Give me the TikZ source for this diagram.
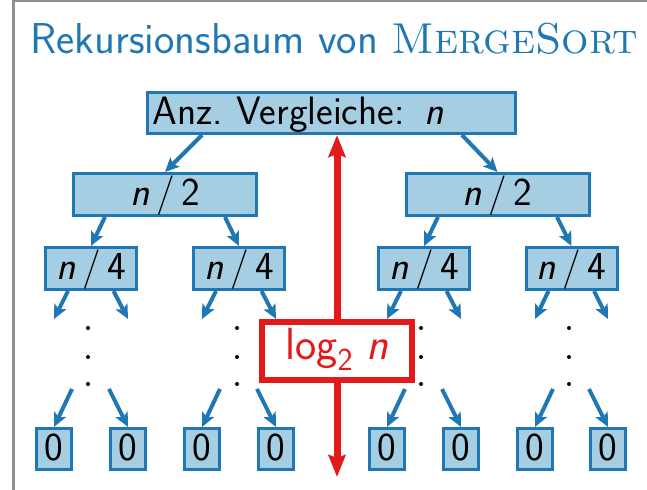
\documentclass[tikz,border=0pt]{standalone}
\usetikzlibrary{arrows.meta,calc}

\definecolor{treeblue}{RGB}{31,120,180}
\definecolor{treefill}{RGB}{166,206,227}
\definecolor{treered}{RGB}{227,26,28}
\definecolor{framegray}{RGB}{145,145,145}

\newcommand\treeboxfont{\sffamily\fontsize{19.8}{24}\selectfont}
\newcommand\treetitlefont{\sffamily\fontsize{21.6}{26}\selectfont}
\newcommand\treelogfont{\sffamily\fontsize{22.5}{27}\selectfont}
\newcommand\treelogsub[1]{\raisebox{-5.5pt}{\fontsize{16}{16}\selectfont #1}}

\tikzset{
  treebox/.style={draw=treeblue, fill=treefill, line width=1.5pt, inner sep=0pt,
    text height=14pt, text depth=2.5pt, font=\treeboxfont, text=black},
  halfbox/.style={treebox, minimum width=91.5pt, minimum height=21pt},
  quarterbox/.style={treebox, minimum width=45.5pt, minimum height=21pt},
  leafbox/.style={treebox, minimum width=17.5pt, minimum height=20.5pt},
  treeedge/.style={draw=treeblue, line width=2pt,
    -{Stealth[length=7pt,width=6.5pt,inset=1.5pt]}},
  vdot/.style={circle, fill=black, inner sep=0pt, minimum size=2pt},
  heightarrow/.style={draw=treered, line width=3.5pt,
    {Stealth[length=11pt,width=8.5pt,inset=1.5pt]}-{Stealth[length=11pt,width=8.5pt,inset=1.5pt]}},
  heightbox/.style={draw=treered, line width=3.2pt, fill=white, inner sep=0pt,
    minimum width=75.25pt, minimum height=28.75pt, text height=14pt, text depth=5pt,
    font=\treelogfont, text=treered},
}

\begin{document}
\begin{tikzpicture}[x=0.5pt,y=-0.5pt]
  \useasboundingbox (0,0) rectangle (647,490);

  % frame lines of the slide block
  \draw[framegray, line width=1.35pt] (13.5,490) -- (13.5,1) -- (647,1);

  % heading
  \node[anchor=base west, inner sep=0pt, text=treeblue, font=\treetitlefont] (title)
    at (30,54) {Rekursionsbaum von \textrm{\textsc{MergeSort}}};

  % tree levels
  \node[treebox, text width=179pt, align=left, inner xsep=2.5pt, minimum height=20.5pt]
    (root) at (331.5,113) {Anz.\ Vergleiche: \textit{n}};

  \node[halfbox] (n2L) at (165,194.5)   {\textit{n}\,/\,2};
  \node[halfbox] (n2R) at (497.5,194.5) {\textit{n}\,/\,2};

  \node[quarterbox] (n4a) at (91,268.5)    {\textit{n}\,/\,4};
  \node[quarterbox] (n4b) at (239,268.5)   {\textit{n}\,/\,4};
  \node[quarterbox] (n4c) at (424,268.5)   {\textit{n}\,/\,4};
  \node[quarterbox] (n4d) at (571.5,268.5) {\textit{n}\,/\,4};

  \foreach \name/\x in {L1/54,L2/128,L3/202,L4/276,L5/387,L6/461,L7/535,L8/608}
    \node[leafbox] (\name) at (\x,449) {0};

  % edges between the upper levels
  \draw[treeedge] ($(root.south)+(-129.5,0)$) -- (n2L.north);
  \draw[treeedge] ($(root.south)+(130.5,0)$) -- (n2R.north);
  \draw[treeedge] ($(n2L.south)+(-60,0)$) -- (n4a.north);
  \draw[treeedge] ($(n2L.south)+(60,0)$) -- (n4b.north);
  \draw[treeedge] ($(n2R.south)+(-59.5,0)$) -- (n4c.north);
  \draw[treeedge] ($(n2R.south)+(59.5,0)$) -- (n4d.north);

  % omitted middle levels: stubs, dots and the edges into the leaves
  \foreach \p/\a/\b/\dx in {n4a/L1/L2/88, n4b/L3/L4/237, n4c/L5/L6/421, n4d/L7/L8/569} {
    \coordinate (\p-l) at ($(\a.north)+(0,-108)$);
    \coordinate (\p-r) at ($(\b.north)+(0,-108)$);
    \draw[treeedge] ($(\p.south)+(-23,0)$) -- (\p-l);
    \draw[treeedge] ($(\p.south)+(22.5,0)$) -- (\p-r);
    \coordinate (\a-s) at ($(\a.north)+(18,-38)$);
    \coordinate (\b-s) at ($(\b.north)+(-19,-38)$);
    \draw[treeedge] (\a-s) -- (\a.north);
    \draw[treeedge] (\b-s) -- (\b.north);
    \node[vdot] (\p-d1) at (\dx,328) {};
    \node[vdot] (\p-d2) at (\dx,357) {};
    \node[vdot] (\p-d3) at (\dx,384) {};
  }

  % recursion depth
  \coordinate (depthbot) at (337,477);
  \draw[heightarrow] (depthbot) -- (depthbot |- root.south);
  \node[heightbox] (depth) at (337,351) {log\treelogsub{2}\ \textit{n}};
\end{tikzpicture}
\end{document}
